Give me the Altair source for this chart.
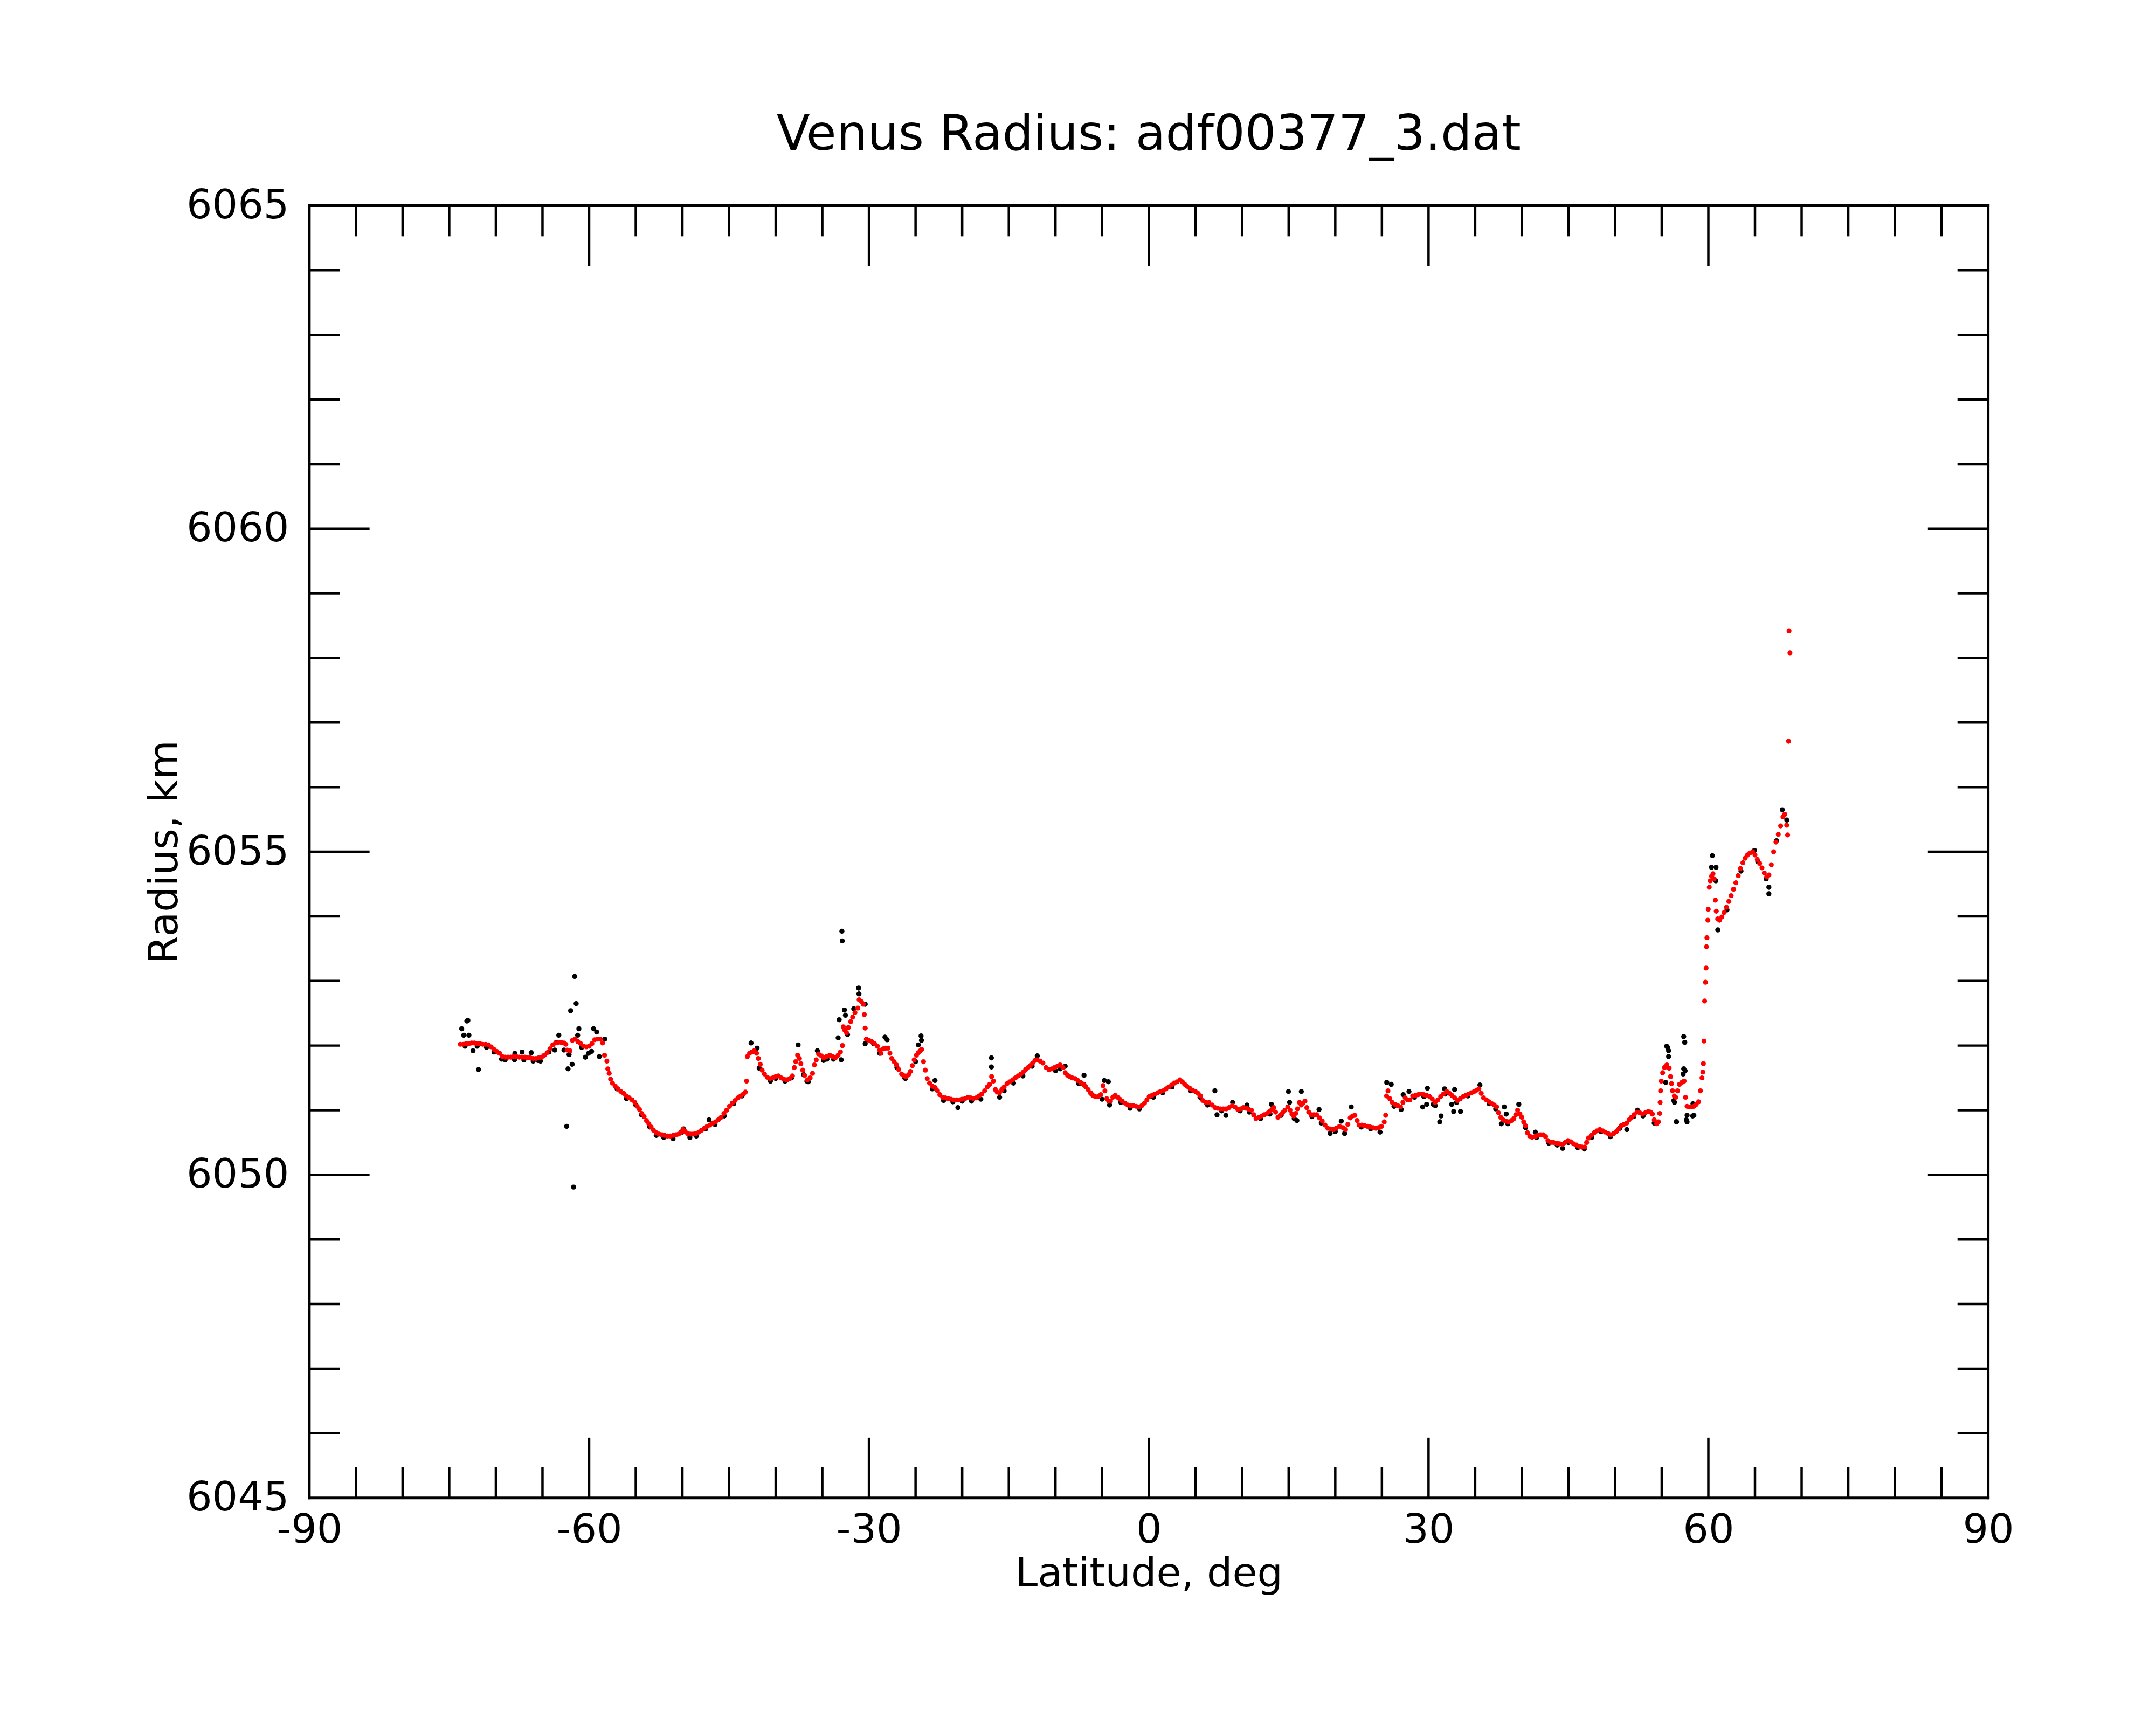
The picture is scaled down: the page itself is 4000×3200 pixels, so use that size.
import altair as alt
import pandas as pd

# ---------------- data ----------------
red_lat = [
    -73.8, -73.5, -73.2, -72.9, -72.6, -72.3, -72.0, -71.7, -71.4, -71.1, -70.8, -70.5, -70.2, -69.9, -69.6,
    -69.3, -69.0, -68.7, -68.4, -68.1, -67.8, -67.5, -67.2, -66.9, -66.6, -66.3, -66.0, -65.7, -65.4, -65.1,
    -64.8, -64.5, -64.2, -63.9, -63.6, -63.3, -63.0, -62.7, -62.5, -62.35, -62.05, -61.8, -61.5, -61.2, -60.9,
    -60.6, -60.3, -60.0, -59.7, -59.4, -59.1, -58.8, -58.55, -58.35, -58.1, -58.0, -57.85, -57.7, -57.5, -57.2,
    -56.9, -56.6, -56.3, -56.0, -55.7, -55.4, -55.1, -54.85, -54.6, -54.35, -54.1, -53.85, -53.6, -53.35, -53.1,
    -52.8, -52.5, -52.2, -51.9, -51.6, -51.3, -51.0, -50.7, -50.4, -50.15, -49.95, -49.7, -49.45, -49.15, -48.85,
    -48.55, -48.25, -47.95, -47.65, -47.35, -47.05, -46.75, -46.45, -46.15, -45.85, -45.55, -45.25, -44.95, -44.65, -44.35,
    -44.05, -43.75, -43.45, -43.25, -43.12, -43.04, -42.8, -42.55, -42.3, -42.05, -41.85, -41.65, -41.45, -41.2, -40.9,
    -40.6, -40.3, -40.0, -39.7, -39.4, -39.1, -38.8, -38.5, -38.2, -38.0, -37.85, -37.65, -37.45, -37.3, -37.1,
    -36.9, -36.6, -36.3, -36.05, -35.85, -35.65, -35.4, -35.1, -34.85, -34.55, -34.2, -33.9, -33.6, -33.3, -33.05,
    -32.85, -32.75, -32.6, -32.4, -32.2, -31.95, -31.75, -31.5, -31.2, -31.05, -30.8, -30.6, -30.5, -30.4, -30.28,
    -30.0, -29.7, -29.4, -29.1, -28.85, -28.7, -28.45, -28.2, -27.95, -27.75, -27.55, -27.3, -27.05, -26.8, -26.5,
    -26.2, -26.0, -25.75, -25.55, -25.35, -25.15, -24.9, -24.7, -24.5, -24.35, -24.15, -23.95, -23.75, -23.5, -23.2,
    -22.9, -22.65, -22.4, -22.1, -21.8, -21.5, -21.2, -20.9, -20.6, -20.3, -20.0, -19.7, -19.4, -19.1, -18.8,
    -18.5, -18.2, -17.9, -17.6, -17.3, -17.05, -16.85, -16.65, -16.45, -16.25, -16.0, -15.75, -15.5, -15.2, -14.9,
    -14.6, -14.3, -14.0, -13.7, -13.45, -13.2, -12.95, -12.7, -12.45, -12.2, -11.95, -11.65, -11.35, -11.0, -10.7,
    -10.4, -10.1, -9.8, -9.5, -9.2, -8.95, -8.7, -8.5, -8.2, -7.9, -7.6, -7.3, -7.0, -6.75, -6.5,
    -6.25, -6.0, -5.75, -5.45, -5.15, -4.9, -4.7, -4.5, -4.3, -4.1, -3.85, -3.6, -3.35, -3.1, -2.85,
    -2.55, -2.25, -1.95, -1.65, -1.35, -1.05, -0.75, -0.45, -0.2, 0.05, 0.35, 0.65, 0.95, 1.25, 1.55,
    1.85, 2.15, 2.45, 2.75, 3.05, 3.35, 3.6, 3.85, 4.1, 4.4, 4.7, 5.0, 5.3, 5.55, 5.8,
    6.1, 6.45, 6.8, 7.1, 7.4, 7.7, 8.0, 8.3, 8.6, 8.95, 9.25, 9.55, 9.85, 10.15, 10.45,
    10.75, 11.0, 11.25, 11.5, 11.8, 12.1, 12.4, 12.7, 12.95, 13.2, 13.4, 13.6, 13.85, 14.1, 14.35,
    14.6, 14.9, 15.15, 15.35, 15.55, 15.75, 15.95, 16.15, 16.35, 16.55, 16.75, 16.95, 17.15, 17.4, 17.7,
    18.0, 18.3, 18.6, 18.9, 19.2, 19.5, 19.8, 20.1, 20.45, 20.8, 21.1, 21.35, 21.6, 21.85, 22.1,
    22.35, 22.55, 22.85, 23.15, 23.45, 23.75, 24.05, 24.35, 24.65, 24.95, 25.25, 25.4, 25.5, 25.65, 25.85,
    26.1, 26.4, 26.7, 27.0, 27.25, 27.5, 27.75, 28.0, 28.3, 28.6, 28.9, 29.2, 29.5, 29.8, 30.1,
    30.4, 30.7, 31.0, 31.3, 31.6, 31.95, 32.25, 32.5, 32.8, 33.1, 33.4, 33.7, 34.0, 34.3, 34.6,
    34.9, 35.15, 35.4, 35.65, 35.9, 36.2, 36.5, 36.8, 37.05, 37.3, 37.5, 37.75, 38.0, 38.3, 38.6,
    38.9, 39.15, 39.35, 39.55, 39.8, 40.0, 40.2, 40.4, 40.6, 40.85, 41.1, 41.4, 41.7, 42.0, 42.3,
    42.55, 42.8, 43.1, 43.4, 43.75, 44.05, 44.35, 44.65, 44.95, 45.25, 45.55, 45.85, 46.15, 46.45, 46.75,
    46.95, 47.15, 47.45, 47.75, 48.05, 48.35, 48.65, 48.95, 49.25, 49.55, 49.85, 50.15, 50.4, 50.65, 50.95,
    51.25, 51.5, 51.75, 52.05, 52.35, 52.65, 52.95, 53.25, 53.55, 53.8, 54.0, 54.2, 54.45, 54.65, 54.78,
    54.83, 54.88, 54.95, 55.1, 55.3, 55.55, 55.8, 55.95, 56.05, 56.15, 56.35, 56.5, 56.7, 56.9, 57.15,
    57.4, 57.55, 57.72, 57.95, 58.2, 58.45, 58.7, 58.95, 59.15, 59.32, 59.41, 59.47, 59.53, 59.6, 59.7,
    59.76, 59.8, 59.85, 59.95, 59.99, 60.1, 60.2, 60.35, 60.5, 60.62, 60.75, 60.85, 61.0, 61.2, 61.45,
    61.7, 61.95, 62.2, 62.45, 62.7, 62.95, 63.2, 63.45, 63.7, 63.95, 64.2, 64.45, 64.75, 65.0, 65.25,
    65.5, 65.75, 66.0, 66.25, 66.5, 66.75, 67.0, 67.25, 67.5, 67.75, 68.0, 68.2, 68.4, 68.5, 68.6,
    68.75, 68.65,
]
red_r = [
    6052.02, 6052.02, 6052.03, 6052.03, 6052.04, 6052.04, 6052.03, 6052.03, 6052.02, 6052.02, 6052.01, 6051.98, 6051.94, 6051.91, 6051.88,
    6051.83, 6051.82, 6051.82, 6051.82, 6051.83, 6051.83, 6051.82, 6051.82, 6051.82, 6051.81, 6051.81, 6051.80, 6051.80, 6051.81, 6051.82,
    6051.85, 6051.89, 6051.95, 6052.01, 6052.04, 6052.05, 6052.05, 6052.04, 6052.02, 6051.93, 6051.92, 6052.08, 6052.10, 6052.06, 6052.03,
    6051.99, 6051.98, 6051.99, 6052.03, 6052.09, 6052.10, 6052.10, 6052.04, 6051.85, 6051.76, 6051.64, 6051.57, 6051.48, 6051.42, 6051.37,
    6051.33, 6051.29, 6051.26, 6051.22, 6051.19, 6051.16, 6051.12, 6051.06, 6051.01, 6050.95, 6050.90, 6050.84, 6050.79, 6050.74, 6050.69,
    6050.65, 6050.63, 6050.62, 6050.61, 6050.60, 6050.60, 6050.61, 6050.62, 6050.63, 6050.66, 6050.70, 6050.67, 6050.64, 6050.63, 6050.63,
    6050.64, 6050.66, 6050.69, 6050.72, 6050.75, 6050.77, 6050.80, 6050.82, 6050.85, 6050.89, 6050.95, 6051.00, 6051.06, 6051.11, 6051.15,
    6051.19, 6051.22, 6051.25, 6051.28, 6051.45, 6051.83, 6051.88, 6051.90, 6051.92, 6051.88, 6051.80, 6051.71, 6051.62, 6051.56, 6051.51,
    6051.49, 6051.50, 6051.52, 6051.53, 6051.50, 6051.48, 6051.47, 6051.49, 6051.53, 6051.66, 6051.75, 6051.85, 6051.80, 6051.72, 6051.62,
    6051.54, 6051.47, 6051.50, 6051.57, 6051.70, 6051.78, 6051.87, 6051.84, 6051.81, 6051.83, 6051.85, 6051.83, 6051.81, 6051.85, 6051.90,
    6052.00, 6052.29, 6052.24, 6052.20, 6052.28, 6052.37, 6052.44, 6052.51, 6052.58, 6052.71, 6052.68, 6052.64, 6052.48, 6052.27, 6052.10,
    6052.08, 6052.06, 6052.03, 6051.99, 6051.93, 6051.88, 6051.95, 6051.96, 6051.96, 6051.88, 6051.80, 6051.75, 6051.70, 6051.63, 6051.56,
    6051.53, 6051.52, 6051.55, 6051.60, 6051.69, 6051.78, 6051.85, 6051.89, 6051.92, 6051.94, 6051.75, 6051.62, 6051.49, 6051.42, 6051.37,
    6051.35, 6051.30, 6051.24, 6051.20, 6051.19, 6051.18, 6051.17, 6051.16, 6051.16, 6051.16, 6051.17, 6051.18, 6051.20, 6051.19, 6051.18,
    6051.19, 6051.22, 6051.25, 6051.30, 6051.36, 6051.40, 6051.52, 6051.45, 6051.32, 6051.28, 6051.27, 6051.32, 6051.36, 6051.41, 6051.44,
    6051.47, 6051.50, 6051.53, 6051.56, 6051.59, 6051.63, 6051.66, 6051.69, 6051.73, 6051.77, 6051.78, 6051.76, 6051.73, 6051.66, 6051.63,
    6051.64, 6051.66, 6051.68, 6051.70, 6051.66, 6051.58, 6051.54, 6051.52, 6051.50, 6051.49, 6051.46, 6051.43, 6051.40, 6051.36, 6051.32,
    6051.27, 6051.23, 6051.21, 6051.21, 6051.24, 6051.38, 6051.30, 6051.18, 6051.14, 6051.14, 6051.20, 6051.23, 6051.20, 6051.17, 6051.14,
    6051.11, 6051.08, 6051.07, 6051.07, 6051.06, 6051.05, 6051.07, 6051.11, 6051.16, 6051.21, 6051.23, 6051.25, 6051.27, 6051.29, 6051.30,
    6051.33, 6051.36, 6051.39, 6051.42, 6051.44, 6051.47, 6051.44, 6051.40, 6051.37, 6051.34, 6051.31, 6051.29, 6051.26, 6051.22, 6051.15,
    6051.12, 6051.12, 6051.08, 6051.04, 6051.03, 6051.02, 6051.02, 6051.02, 6051.04, 6051.07, 6051.05, 6051.01, 6051.02, 6051.04, 6051.03,
    6051.01, 6051.00, 6050.93, 6050.87, 6050.89, 6050.91, 6050.93, 6050.95, 6050.98, 6051.01, 6051.04, 6050.97, 6050.89, 6050.92, 6050.96,
    6051.00, 6051.05, 6051.00, 6050.94, 6050.91, 6050.95, 6051.02, 6051.12, 6051.08, 6051.11, 6051.14, 6051.04, 6050.97, 6050.93, 6050.93,
    6050.93, 6050.88, 6050.83, 6050.77, 6050.72, 6050.71, 6050.70, 6050.72, 6050.75, 6050.73, 6050.70, 6050.78, 6050.88, 6050.91, 6050.92,
    6050.84, 6050.77, 6050.77, 6050.76, 6050.75, 6050.74, 6050.73, 6050.72, 6050.73, 6050.75, 6050.82, 6050.92, 6051.22, 6051.30, 6051.18,
    6051.12, 6051.09, 6051.07, 6051.05, 6051.12, 6051.19, 6051.16, 6051.16, 6051.22, 6051.23, 6051.24, 6051.25, 6051.24, 6051.23, 6051.21,
    6051.17, 6051.12, 6051.16, 6051.21, 6051.25, 6051.29, 6051.26, 6051.23, 6051.19, 6051.15, 6051.18, 6051.21, 6051.23, 6051.25, 6051.27,
    6051.29, 6051.31, 6051.33, 6051.26, 6051.19, 6051.16, 6051.13, 6051.10, 6051.08, 6051.05, 6050.96, 6050.89, 6050.85, 6050.83, 6050.82,
    6050.84, 6050.87, 6050.93, 6051.00, 6050.94, 6050.89, 6050.82, 6050.76, 6050.65, 6050.60, 6050.58, 6050.59, 6050.61, 6050.62, 6050.62,
    6050.59, 6050.53, 6050.50, 6050.50, 6050.49, 6050.48, 6050.47, 6050.50, 6050.53, 6050.51, 6050.48, 6050.46, 6050.44, 6050.43, 6050.43,
    6050.50, 6050.57, 6050.61, 6050.65, 6050.68, 6050.70, 6050.68, 6050.66, 6050.64, 6050.62, 6050.64, 6050.67, 6050.71, 6050.76, 6050.78,
    6050.80, 6050.85, 6050.89, 6050.93, 6050.97, 6050.96, 6050.94, 6050.96, 6050.98, 6050.97, 6050.94, 6050.85, 6050.79, 6050.82, 6050.95,
    6051.12, 6051.30, 6051.45, 6051.58, 6051.66, 6051.70, 6051.65, 6051.52, 6051.41, 6051.30, 6051.22, 6051.20, 6051.30, 6051.40, 6051.43,
    6051.45, 6051.20, 6051.06, 6051.05, 6051.05, 6051.06, 6051.09, 6051.13, 6051.30, 6051.50, 6051.59, 6051.72, 6052.07, 6052.69, 6052.98,
    6053.20, 6053.53, 6053.67, 6053.94, 6054.11, 6054.45, 6054.55, 6054.62, 6054.66, 6054.58, 6054.25, 6054.08, 6053.96, 6053.94, 6053.99,
    6054.06, 6054.14, 6054.23, 6054.32, 6054.42, 6054.52, 6054.63, 6054.74, 6054.83, 6054.90, 6054.95, 6054.98, 6055.00, 6054.95, 6054.88,
    6054.82, 6054.75, 6054.67, 6054.61, 6054.64, 6054.80, 6055.00, 6055.15, 6055.27, 6055.40, 6055.54, 6055.58, 6055.41, 6055.26, 6056.71,
    6058.08, 6058.42,
]

black_lat = [
    # points along the track, mostly hidden under the red dots
    -73.3, -72.0, -71.0, -70.2, -69.0, -68.0, -67.0, -66.0, -65.5, -64.3, -63.5, -60.8, -57.0, -56.0, -55.0,
    -54.4, -53.5, -52.8, -52.0, -51.0, -50.0, -49.2, -48.5, -47.5, -46.5, -45.5, -44.5, -43.6, -40.0, -39.0,
    -38.3, -37.0, -36.5, -34.5, -33.8, -29.5, -27.0, -26.1, -25.0, -23.2, -22.0, -21.0, -20.0, -19.0, -18.0,
    -15.5, -14.5, -13.5, -12.5, -10.0, -9.5, -7.5, -6.2, -5.0, -3.0, -2.0, -1.0, 0.5, 1.5, 2.5,
    4.5, 5.5, 6.3, 7.8, 9.8, 10.8, 12.0, 13.0, 14.2, 15.6, 17.5, 18.5, 20.0, 22.8, 23.8,
    26.3, 28.5, 29.5, 30.5, 31.8, 33.0, 34.2, 36.5, 37.2, 38.5, 40.4, 41.6, 42.9, 43.8, 45.0,
    46.0, 46.7, 47.5, 48.5, 49.5, 50.5, 52.0, 53.0, 54.2, 60.8, 62.0, 63.5, 65.3, 66.2, 67.3,
    # scattered points
    -73.11, -73.0, -73.66, -73.44, -72.89, -72.45, -71.86, -69.39, -67.96, -67.19, -66.21, -65.22, -63.25, -63.69, -62.7,
    -62.15, -62.26, -61.82, -61.98, -61.39, -61.54, -62.41, -61.67, -61.1, -61.23, -60.4, -60.07, -59.74, -59.52, -59.19,
    -58.91, -58.32, -47.14, -49.88, -42.64, -41.99, -41.77, -40.56,
    -32.9, -32.86, -31.11, -31.07, -30.4, -32.63, -32.52, -33.19, -33.3, -32.97, -31.63, -32.3, -37.59, -36.65, -35.53,
    -34.87, -30.4, -28.28, -28.05, -28.84, -24.41, -24.37, -24.7, -26.16, -22.92, -20.46, -16.87, -16.87, -15.99, -11.95,
    -8.96, -6.96, -4.76, -4.2,
    -6.94, -4.33, 7.09, 7.32, 8.27, 8.99, 10.53, 13.15, 14.98, 15.1, 16.36, 15.88, 18.26, 20.64, 21.0,
    21.71, 25.52, 26.0, 27.07, 27.9, 29.8, 19.45, 24.8,
    27.28, 29.88, 29.36, 30.72, 31.34, 31.2, 31.72, 32.49, 32.7, 33.43, 32.8, 35.51, 38.12, 38.33, 39.68,
    37.81, 41.46, 44.38, 51.26, 52.4, 55.53, 55.74, 55.74, 55.43, 56.37, 56.57, 57.47, 57.51, 57.3, 57.72,
    57.72, 58.45, 58.35,
    55.63, 56.3, 56.59, 57.36, 57.36, 57.64, 58.31, 60.43, 60.33, 60.82, 61.01, 64.95, 66.49, 66.49, 67.93,
    68.41,
]
black_r = [
    6051.99, 6051.99, 6051.97, 6051.90, 6051.78, 6051.78, 6051.78, 6051.76, 6051.77, 6051.90, 6052.05, 6051.97, 6051.33, 6051.18, 6051.08,
    6050.93, 6050.74, 6050.61, 6050.58, 6050.56, 6050.66, 6050.58, 6050.60, 6050.71, 6050.78, 6050.91, 6051.10, 6051.22, 6051.49, 6051.45,
    6051.50, 6051.55, 6051.44, 6051.79, 6051.79, 6052.03, 6051.66, 6051.49, 6051.75, 6051.33, 6051.15, 6051.13, 6051.14, 6051.14, 6051.17,
    6051.30, 6051.42, 6051.53, 6051.68, 6051.61, 6051.64, 6051.41, 6051.26, 6051.17, 6051.12, 6051.03, 6051.02, 6051.20, 6051.27, 6051.36,
    6051.30, 6051.20, 6051.08, 6050.99, 6050.99, 6050.97, 6050.87, 6050.94, 6050.92, 6050.87, 6050.90, 6050.80, 6050.67, 6050.74, 6050.71,
    6051.06, 6051.20, 6051.21, 6051.09, 6051.25, 6051.12, 6051.22, 6051.10, 6051.02, 6050.79, 6050.73, 6050.58, 6050.49, 6050.46, 6050.50,
    6050.42, 6050.40, 6050.58, 6050.67, 6050.59, 6050.72, 6050.90, 6050.91, 6050.80, 6054.55, 6054.10, 6054.70, 6054.85, 6054.58, 6055.17,
    6052.38, 6052.39, 6052.26, 6052.16, 6052.16, 6051.92, 6051.63, 6051.79, 6051.88, 6051.90, 6051.89, 6051.76, 6052.16, 6051.93, 6051.93,
    6051.86, 6051.64, 6051.71, 6052.54, 6052.65, 6053.07, 6050.75, 6049.81, 6052.26, 6052.16, 6051.82, 6051.88, 6051.91, 6052.26, 6052.21,
    6051.83, 6052.10, 6050.85, 6050.71, 6052.04, 6051.96, 6051.65, 6051.45,
    6053.77, 6053.62, 6052.89, 6052.80, 6052.64, 6052.55, 6052.47, 6052.40, 6052.12, 6051.78, 6052.57, 6052.17, 6052.01, 6051.45, 6051.92,
    6051.77, 6052.03, 6052.13, 6052.09, 6051.88, 6052.15, 6052.08, 6052.01, 6051.50, 6051.46, 6051.04, 6051.81, 6051.67, 6051.20, 6051.84,
    6051.68, 6051.40, 6051.46, 6051.08,
    6051.54, 6051.44, 6051.30, 6050.93, 6050.92, 6051.12, 6051.08, 6051.09, 6051.29, 6051.12, 6051.29, 6050.84, 6051.01, 6050.83, 6050.64,
    6051.05, 6051.43, 6051.40, 6051.01, 6051.29, 6051.09, 6050.64, 6050.66,
    6051.24, 6051.34, 6051.05, 6051.07, 6050.91, 6050.82, 6051.33, 6051.09, 6050.98, 6050.98, 6051.32, 6051.39, 6051.05, 6050.94, 6051.09,
    6050.79, 6050.66, 6050.41, 6050.70, 6051.00, 6051.99, 6051.92, 6051.83, 6051.43, 6051.12, 6050.82, 6052.05, 6051.61, 6051.56, 6050.82,
    6050.92, 6050.92, 6051.10,
    6051.97, 6051.15, 6050.82, 6052.14, 6051.64, 6050.85, 6050.91, 6054.94, 6054.76, 6054.76, 6053.79, 6055.02, 6054.45, 6054.35, 6055.65,
    6055.49,
]

x_label_values = [-90, -60, -30, 0, 30, 60, 90]
y_label_values = [6045, 6050, 6055, 6060, 6065]
x_major_ticks = [-60, -30, 0, 30, 60]
x_minor_ticks = [-85, -80, -75, -70, -65, -55, -50, -45, -40, -35, -25, -20, -15, -10, -5,
                 5, 10, 15, 20, 25, 35, 40, 45, 50, 55, 65, 70, 75, 80, 85]
y_major_ticks = [6050, 6055, 6060]
y_minor_ticks = [6046, 6047, 6048, 6049, 6051, 6052, 6053, 6054, 6056, 6057, 6058, 6059,
                 6061, 6062, 6063, 6064]

# ---------------- chart ----------------
W, H = 3121, 2402
FONT = "DejaVu Sans"
MAJOR, MINOR = 112, 57
TICK_W = 4.5
FRAME_W = 5

red_df = pd.DataFrame({"lat": red_lat, "r": red_r})
black_df = pd.DataFrame({"lat": black_lat, "r": black_r})

xscale = alt.Scale(domain=[-90, 90], nice=False, zero=False)
yscale = alt.Scale(domain=[6045, 6065], nice=False, zero=False)

xaxis = alt.Axis(values=x_label_values, title="Latitude, deg", grid=False, domain=False, ticks=False,
                 tickSize=0, labelFont=FONT, labelFontSize=75, labelColor="black", labelPadding=24,
                 labelFlush=False, labelOverlap=False, labelLimit=1000, labelExpr="'' + datum.value",
                 titleFont=FONT, titleFontSize=75, titleFontWeight="normal", titleColor="black",
                 titlePadding=7)
yaxis = alt.Axis(values=y_label_values, title="Radius, km", grid=False, domain=False, ticks=False,
                 tickSize=0, labelFont=FONT, labelFontSize=75, labelColor="black", labelPadding=38,
                 labelFlush=False, labelOverlap=False, labelLimit=1000, labelExpr="'' + datum.value",
                 titleFont=FONT, titleFontSize=75, titleFontWeight="normal", titleColor="black",
                 titlePadding=30)

black_layer = alt.Chart(black_df).mark_circle(color="black", size=90, opacity=1).encode(
    x=alt.X("lat:Q", scale=xscale, axis=xaxis),
    y=alt.Y("r:Q", scale=yscale, axis=yaxis),
)
red_layer = alt.Chart(red_df).mark_circle(color="#ff0000", size=85, opacity=1).encode(
    x=alt.X("lat:Q", scale=xscale),
    y=alt.Y("r:Q", scale=yscale),
)

def xticks(vals, length):
    d = pd.DataFrame({"t": vals})
    base = alt.Chart(d).mark_rule(color="black", strokeWidth=TICK_W)
    bottom = base.encode(x=alt.X("t:Q", scale=xscale), y=alt.value(H), y2=alt.value(H - length))
    top = base.encode(x=alt.X("t:Q", scale=xscale), y=alt.value(0), y2=alt.value(length))
    return [bottom, top]

def yticks(vals, length):
    d = pd.DataFrame({"t": vals})
    base = alt.Chart(d).mark_rule(color="black", strokeWidth=TICK_W)
    left = base.encode(y=alt.Y("t:Q", scale=yscale), x=alt.value(0), x2=alt.value(length))
    right = base.encode(y=alt.Y("t:Q", scale=yscale), x=alt.value(W), x2=alt.value(W - length))
    return [left, right]

frame_df = pd.DataFrame({"k": [0]})
frame_base = alt.Chart(frame_df).mark_rule(color="black", strokeWidth=FRAME_W, strokeCap="square")
frame = [
    frame_base.encode(x=alt.value(0), x2=alt.value(W), y=alt.value(0)),
    frame_base.encode(x=alt.value(0), x2=alt.value(W), y=alt.value(H)),
    frame_base.encode(y=alt.value(0), y2=alt.value(H), x=alt.value(0)),
    frame_base.encode(y=alt.value(0), y2=alt.value(H), x=alt.value(W)),
]

layers = (xticks(x_major_ticks, MAJOR) + xticks(x_minor_ticks, MINOR)
          + yticks(y_major_ticks, MAJOR) + yticks(y_minor_ticks, MINOR)
          + frame + [black_layer, red_layer])

chart = alt.layer(*layers).properties(
    width=W,
    height=H,
    title=alt.TitleParams("Venus Radius: adf00377_3.dat", font=FONT, fontSize=91, fontWeight="normal",
                          color="black", anchor="middle", baseline="alphabetic", offset=94, dy=118),
    autosize=alt.AutoSizeParams(type="none"),
    padding={"left": 567, "top": 371, "right": 304, "bottom": 419},
    background="white",
).configure_view(stroke=None)

chart.save("out.html", embed_options={"renderer": "svg", "actions": False})
